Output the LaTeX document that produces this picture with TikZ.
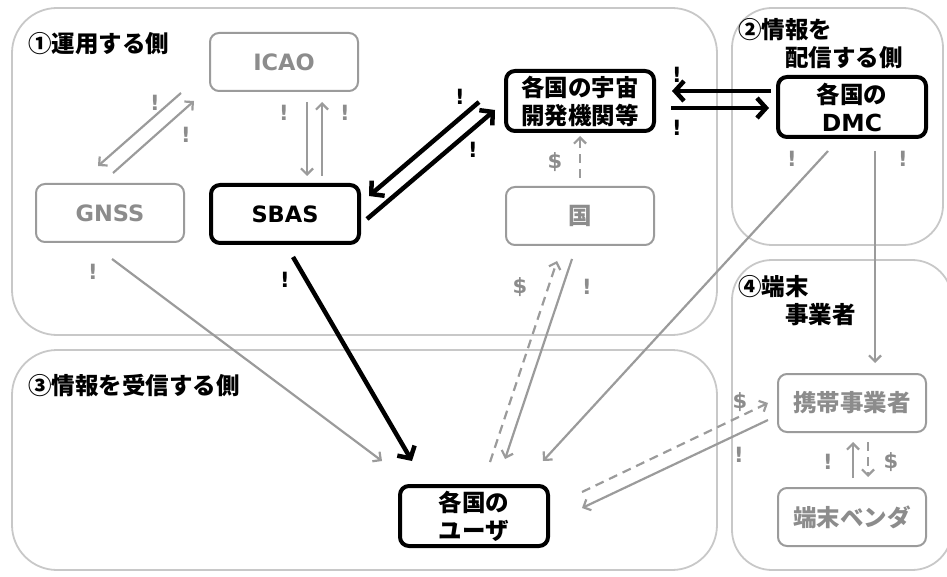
\documentclass[tikz,border=0pt]{standalone}
\usepackage{fontspec}
\setmainfont{Noto Sans CJK JP}
\newfontfamily\latinfont{DejaVu Sans}
\usetikzlibrary{arrows.meta, positioning}

\definecolor{panel}{RGB}{200,200,200}
\definecolor{pale}{RGB}{155,155,155}
\definecolor{paletext}{RGB}{140,140,140}

\begin{document}
\begin{tikzpicture}[x=1pt, y=-1pt, font=\fontsize{23.5}{28}\selectfont\bfseries]
		\tikzstyle{area} = [draw=panel, line width=1.8pt, rounded corners=45pt]
		\tikzstyle{block} = [rectangle, draw, line width=4pt, rounded corners=9pt, minimum width=148pt, minimum height=58pt, align=center, inner sep=2pt]
		\tikzstyle{paleblock} = [block, draw=pale, line width=2pt, text=paletext]
		\tikzstyle{latin} = [font=\fontsize{22.5}{28}\selectfont\latinfont\bfseries]
		\tikzstyle{title} = [anchor=north west, align=left, inner sep=0pt]
		\tikzstyle{gmark} = [font=\fontsize{21}{21}\selectfont\latinfont\bfseries, text=paletext, inner sep=0pt]
		\tikzstyle{bmark} = [gmark, text=black]
		\tikzstyle{line} = [draw=pale, line width=2.2pt, -{Straight Barb[length=6pt, width=12pt]}]
		\tikzstyle{dline} = [line, dash pattern=on 9pt off 6pt]
		\tikzstyle{thick line} = [draw=black, line width=4.5pt, -{Straight Barb[length=9pt, width=20pt]}]

		\clip (0,0) rectangle (947,577);

		% panels
		\draw [area] (12,8) rectangle (717,335);
		\draw [area, rounded corners=40pt] (732,8) rectangle (943,245);
		\draw [area] (12,350) rectangle (717,570);
		\draw [area, rounded corners=40pt] (732,260) rectangle (952,570);

		\node [title] (t1) at (28,32) {①運用する側};
		\node [title] (t2) at (738,18) {②情報を\\\hspace*{2em}配信する側};
		\node [title] (t3) at (28,374) {③情報を受信する側};
		\node [title] (t4) at (738,275) {④端末\\\hspace*{2em}事業者};

		% boxes
		\node [paleblock, latin] (icao) at (284,62) {ICAO};
		\node [paleblock, latin] (gnss) at (110,213) {GNSS};
		\node [block, latin] (sbas) at (285,214) {SBAS};
		\node [block, minimum height=60pt] (space) at (580,101) {各国の宇宙\\開発機関等};
		\node [block, minimum height=60pt] (dmc) at (852,107) {各国の\\{\latinfont DMC}};
		\node [paleblock] (kuni) at (580,216) {国};
		\node [block, minimum height=60pt] (user) at (474,516) {各国の\\ユーザ};
		\node [paleblock] (keitai) at (852,403) {携帯事業者};
		\node [paleblock] (vendor) at (852,517) {端末ベンダ};

		% connectors
		\path [line] ([shift={(-28,1)}]icao.south west) -- ([shift={(-12,-17)}]gnss.north);
		\path [line] ([shift={(3,-10)}]gnss.north) -- ([shift={(-15,9)}]icao.south west);
		\path [line] ([shift={(23,10)}]icao.south) -- ([shift={(22,-7)}]sbas.north);
		\path [line] ([shift={(37,-7)}]sbas.north) -- ([shift={(38,10)}]icao.south);
		\path [thick line] ([shift={(-25,1)}]space.west) -- ([shift={(8,-18)}]sbas.east);
		\path [thick line] ([shift={(6,5)}]sbas.east) -- ([shift={(-9,9)}]space.west);
		\path [thick line] ([shift={(-5,-16)}]dmc.west) -- ([shift={(16,-10)}]space.east);
		\path [thick line] ([shift={(15,7)}]space.east) -- ([shift={(-7,1)}]dmc.west);
		\path [dline] ([shift={(0,-8)}]kuni.north) -- ([shift={(0,3)}]space.south);
		\path [dline] ([shift={(16,-22)}]user.north) -- ([shift={(-23,15)}]kuni.south);
		\path [line] ([shift={(-8,13)}]kuni.south) -- ([shift={(31,-25)}]user.north);
		\path [line] ([shift={(-24,12)}]dmc.south) -- ([shift={(69,-23)}]user.north);
		\path [line] ([shift={(23,12)}]dmc.south) -- ([shift={(23,-10)}]keitai.north);
		\path [dline] ([shift={(32,8)}]user.north east) -- ([shift={(-9,0)}]keitai.west);
		\path [line] ([shift={(-9,17)}]keitai.west) -- ([shift={(32,-8)}]user.east);
		\path [line] ([shift={(1,-9)}]vendor.north) -- ([shift={(1,9)}]keitai.south);
		\path [dline] ([shift={(16,9)}]keitai.south) -- ([shift={(16,-10)}]vendor.north);
		\path [line] ([shift={(2,16)}]gnss.south) -- ([shift={(-16,-23)}]user.north west);
		\path [thick line] ([shift={(8,12)}]sbas.south) -- ([shift={(-62,-23)}]user.north);

		% marks
		\foreach \p [count=\i] in {(155,103),(186,135),(284,113),(345,113),(93,272),(792,159),(903,159),(587,287),(739,455),(828,462)}
			\node [gmark] (g\i) at \p {!};
		\foreach \p [count=\i] in {(460,97),(473,150),(285,280),(677,75),(677,128)}
			\node [bmark] (b\i) at \p {!};
		\foreach \p [count=\i] in {(555,162),(520,287),(740,402),(891,462)}
			\node [gmark] (d\i) at \p {\$};
	\end{tikzpicture}
\end{document}
